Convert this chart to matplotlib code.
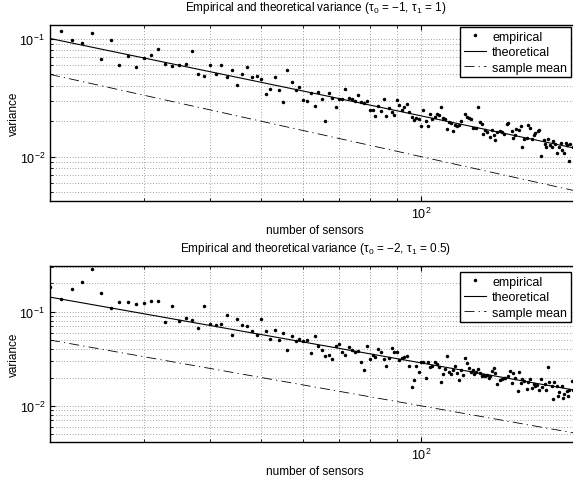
import matplotlib
matplotlib.use("Agg")
import matplotlib.pyplot as plt
from matplotlib.ticker import LogLocator, NullFormatter, FixedLocator

plt.rcParams['font.family'] = ['Liberation Sans', 'DejaVu Sans']
plt.rcParams['mathtext.fontset'] = 'custom'
plt.rcParams['mathtext.rm'] = 'Liberation Sans'
plt.rcParams['mathtext.it'] = 'Liberation Sans:italic'
plt.rcParams['mathtext.bf'] = 'Liberation Sans:bold'
plt.rcParams['font.size'] = 8.5

# ---- top panel (tau0 = -1, tau1 = 1) ----
top_n_a = list(range(21, 63))
top_var_a = [0.117, 0.098, 0.0925, 0.1125, 0.0672, 0.0975, 0.0598, 0.0721, 0.0575, 0.0686,
             0.0727, 0.0822, 0.061, 0.059, 0.0601, 0.0617, 0.0796, 0.0507, 0.0488, 0.0601,
             0.0501, 0.0601, 0.0475, 0.0548, 0.0404, 0.0504, 0.0582, 0.0478, 0.0488, 0.0457,
             0.0339, 0.0374, 0.0473, 0.0366, 0.0292, 0.0542, 0.0434, 0.0369, 0.0389, 0.0303,
             0.0297, 0.035]
top_n_b = list(range(63, 120))
top_var_b = [0.0268, 0.0352, 0.0309, 0.0200, 0.0346, 0.0313, 0.0263, 0.0307, 0.0309, 0.0374,
             0.0315, 0.0307, 0.0296, 0.0336, 0.0290, 0.0284, 0.0297, 0.0249, 0.0249, 0.0223,
             0.0268, 0.0243, 0.0307, 0.0220, 0.0261, 0.0238, 0.0226, 0.0303, 0.0277, 0.0249,
             0.0266, 0.0279, 0.0238, 0.0217, 0.0206, 0.0214, 0.0208, 0.0183, 0.0248, 0.0202,
             0.0181, 0.0231, 0.0209, 0.0216, 0.0232, 0.0226, 0.0266, 0.0212, 0.0209, 0.0172,
             0.0196, 0.0193, 0.0164, 0.0186, 0.0183, 0.0187, 0.0202]
top_n_c = [121, 122, 123, 124, 125, 127, 128, 129, 130, 131, 132, 133, 135, 136, 137, 138, 139,
           141, 142, 143, 145, 146, 148, 149, 150, 151, 153, 154, 155, 156, 158, 159, 160, 162,
           163, 164, 166, 167, 168, 170, 171, 172, 173, 175, 176, 177, 179, 180, 182, 183, 184,
           186, 187, 188, 190, 191, 193]
top_var_c = [0.0232, 0.0216, 0.0212, 0.0208, 0.0176, 0.0174, 0.0266, 0.0198, 0.0191, 0.0156,
             0.0169, 0.0163, 0.0146, 0.0170, 0.0153, 0.0139, 0.0163, 0.0166, 0.0162, 0.0157,
             0.0188, 0.0192, 0.0166, 0.0144, 0.0153, 0.0173, 0.0169, 0.0182, 0.0120, 0.0141,
             0.0144, 0.0186, 0.0175, 0.0141, 0.0153, 0.0159, 0.0164, 0.0169, 0.0102, 0.0138,
             0.0128, 0.0122, 0.0141, 0.0126, 0.0120, 0.0136, 0.0127, 0.0108, 0.0121, 0.0130,
             0.0115, 0.0107, 0.0131, 0.0126, 0.0092, 0.0129, 0.0121]
top_theo_n = [20, 62, 200]
top_theo_var = [0.101, 0.035, 0.0115]

# ---- bottom panel (tau0 = -2, tau1 = 0.5) ----
bot_n_a = list(range(20, 63))
bot_var_a = [0.182, 0.137, 0.174, 0.208, 0.285, 0.158, 0.109, 0.126, 0.126, 0.122,
             0.124, 0.131, 0.131, 0.0771, 0.116, 0.0791, 0.0863, 0.0822, 0.0676, 0.116,
             0.0745, 0.0722, 0.0740, 0.0922, 0.0569, 0.0836, 0.0717, 0.0710, 0.0618, 0.0565,
             0.0836, 0.0628, 0.0516, 0.0644, 0.0504, 0.0593, 0.0388, 0.0547, 0.0491, 0.0512,
             0.0484, 0.0500, 0.0361]
bot_n_b = list(range(63, 122))
bot_var_b = [0.0547, 0.0429, 0.0391, 0.0335, 0.0349, 0.0312, 0.0429, 0.0453, 0.0375, 0.0346,
             0.0418, 0.0394, 0.0375, 0.0385, 0.0290, 0.0242, 0.0429, 0.0314, 0.0346, 0.0327,
             0.0401, 0.0375, 0.0314, 0.0262, 0.0319, 0.0411, 0.0370, 0.0375, 0.0306, 0.0319,
             0.0327, 0.0340, 0.0266, 0.0157, 0.0188, 0.0266, 0.0227, 0.0290, 0.0294, 0.0196,
             0.0290, 0.0256, 0.0266, 0.0294, 0.0276, 0.0256, 0.0180, 0.0217, 0.0246, 0.0335,
             0.0227, 0.0217, 0.0242, 0.0266, 0.0223, 0.0188, 0.0242, 0.0214, 0.0319]
bot_n_c = [122, 123, 124, 125, 126, 127, 128, 129, 130, 131, 132, 133, 134, 135, 136, 137, 138,
           139, 141, 142, 143, 144, 146, 147, 148, 149, 150, 152, 153, 154, 155, 156, 158, 159,
           160, 162, 163, 164, 165, 167, 168, 169, 171, 172, 173, 174, 176, 177, 178, 180, 181,
           182, 184, 185, 186, 188, 189, 190, 192, 193]
bot_var_c = [0.0287, 0.0250, 0.0230, 0.0242, 0.0217, 0.0230, 0.0246, 0.0223, 0.0208, 0.0212,
             0.0206, 0.0212, 0.0196, 0.0206, 0.0236, 0.0250, 0.0223, 0.0170, 0.0189, 0.0192,
             0.0200, 0.0196, 0.0208, 0.0234, 0.0177, 0.0223, 0.0196, 0.0144, 0.0230, 0.0177,
             0.0192, 0.0185, 0.0151, 0.0180, 0.0192, 0.0153, 0.0170, 0.0161, 0.0166, 0.0148,
             0.0192, 0.0157, 0.0170, 0.0148, 0.0256, 0.0180, 0.0163, 0.0118, 0.0180, 0.0161,
             0.0128, 0.0139, 0.0161, 0.0120, 0.0133, 0.0144, 0.0128, 0.0148, 0.0185, 0.0148]
bot_theo_n = [20, 200]
bot_theo_var = [0.143, 0.0143]

# sample mean variance (same in both panels)
mean_n = [20, 200]
mean_var = [0.05, 0.005]

titles = [u'Empirical and theoretical variance (\u03c4$_0$ = \u22121, \u03c4$_1$ = 1)',
          u'Empirical and theoretical variance (\u03c4$_0$ = \u22122, \u03c4$_1$ = 0.5)']
ylims = [(0.0042, 0.1315), (0.0041, 0.304)]
leg_top = [0.989, 0.969]

W, H = 573, 485
fig = plt.figure(figsize=(W / 100, H / 100), dpi=100)
# axes run past the right edge of the image (x = 200 is cut off)
ax1 = fig.add_axes([50 / W, 1 - 202 / H, 531 / W, 176 / H])
ax2 = fig.add_axes([50 / W, 1 - 443.3 / H, 531 / W, 176 / H])

panels = [
    (ax1, top_n_a + top_n_b + top_n_c, top_var_a + top_var_b + top_var_c, top_theo_n, top_theo_var),
    (ax2, bot_n_a + bot_n_b + bot_n_c, bot_var_a + bot_var_b + bot_var_c, bot_theo_n, bot_theo_var),
]

for i, (ax, n, v, tn, tv) in enumerate(panels):
    ax.plot(n, v, '.', color='k', ms=3.0, label='empirical')
    ax.plot(tn, tv, '-', color='k', lw=0.8, label='theoretical')
    ax.plot(mean_n, mean_var, color='k', lw=0.6, dashes=(12, 5, 1.5, 5), label='sample mean')
    ax.set_xscale('log')
    ax.set_yscale('log')
    ax.set_xlim(20, 200)
    ax.set_ylim(*ylims[i])

    ax.xaxis.set_major_locator(FixedLocator([100]))
    ax.xaxis.set_minor_locator(LogLocator(base=10, subs=range(2, 10)))
    ax.xaxis.set_minor_formatter(NullFormatter())
    ax.yaxis.set_minor_locator(LogLocator(base=10, subs=range(2, 10)))
    ax.yaxis.set_minor_formatter(NullFormatter())

    ax.grid(True, which='both', ls=(0, (1, 3)), color='0.3', lw=0.5)
    ax.tick_params(which='both', direction='in', top=True, right=True, labelsize=9)
    ax.tick_params(which='major', length=3.5, width=0.8)
    ax.tick_params(which='minor', length=2, width=0.6)
    for s in ax.spines.values():
        s.set_linewidth(1.0)

    ax.set_title(titles[i], fontsize=8.5, pad=11)
    ax.set_xlabel('number of sensors', fontsize=8.5)
    ax.set_ylabel('variance', fontsize=8.5)
    ax.xaxis.set_label_coords(265 / 531, -23 / 176)
    ax.yaxis.set_label_coords(-30 / 531, 0.5)

    leg = ax.legend(loc='upper right', bbox_to_anchor=(521 / 531, leg_top[i]), borderaxespad=0,
                    fontsize=9, fancybox=False, framealpha=1, edgecolor='k',
                    labelspacing=0.28, handlelength=1.8, handletextpad=0.5, borderpad=0.3,
                    markerscale=1.0)
    leg.get_frame().set_linewidth(1.0)

fig.savefig('out.png', dpi=100)
